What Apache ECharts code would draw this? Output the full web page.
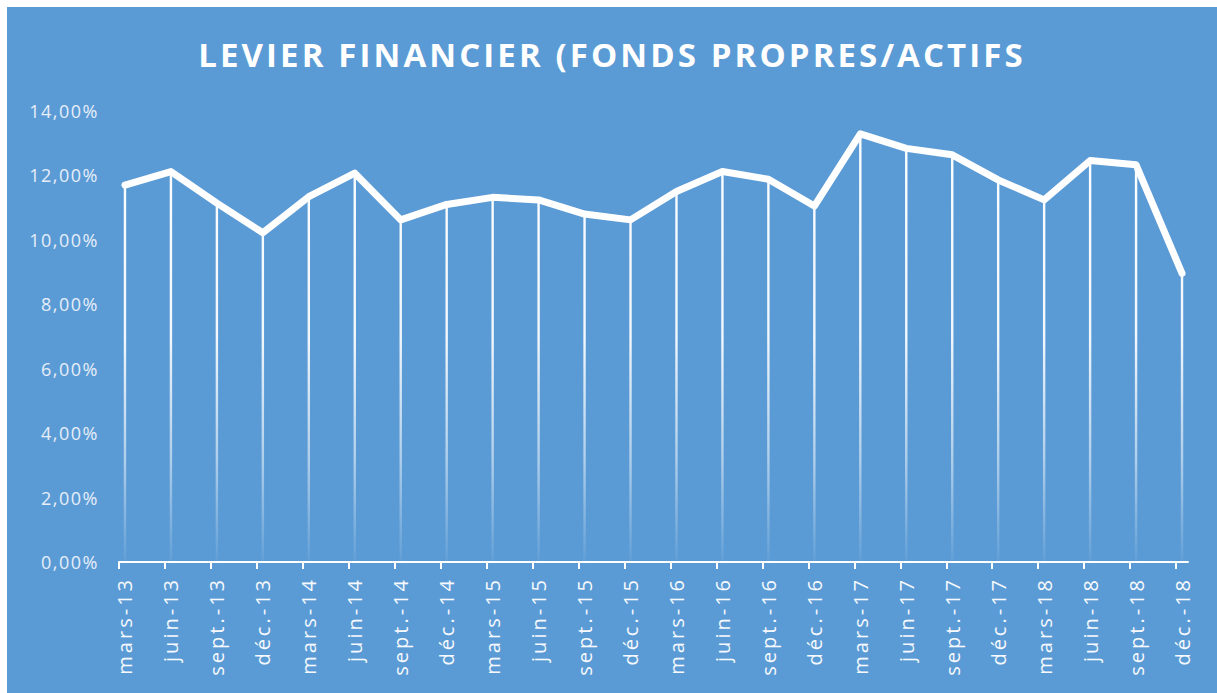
<!DOCTYPE html>
<html>
<head>
<meta charset="utf-8">
<script src="https://cdn.jsdelivr.net/npm/echarts@6/dist/echarts.min.js"></script>
<style>
  html, body { margin: 0; padding: 0; background: #ffffff; width: 1217px; height: 693px; overflow: hidden; }
  #chart { position: absolute; left: 7px; top: 7px; width: 1210px; height: 686px; }
  #chart text[style*="33px"] { letter-spacing: 3.1px; }
  #chart text[style*="20px"] { letter-spacing: 3px; }
  #chart text[style*="18px"] { letter-spacing: 1.5px; }
</style>
</head>
<body>
<div id="chart"></div>
<script>
const titleText = 'LEVIER FINANCIER (FONDS PROPRES/ACTIFS';
const categories = ['mars-13','juin-13','sept.-13','déc.-13','mars-14','juin-14','sept.-14','déc.-14',
  'mars-15','juin-15','sept.-15','déc.-15','mars-16','juin-16','sept.-16','déc.-16',
  'mars-17','juin-17','sept.-17','déc.-17','mars-18','juin-18','sept.-18','déc.-18'];
const values = [11.70, 12.12, 11.14, 10.22, 11.34, 12.07, 10.62, 11.10,
  11.32, 11.24, 10.80, 10.62, 11.50, 12.12, 11.88, 11.05,
  13.29, 12.84, 12.64, 11.86, 11.24, 12.46, 12.33, 8.96];
const yMin = 0, yMax = 14, yStep = 2;

const chart = echarts.init(document.getElementById('chart'), null, { renderer: 'svg' });
const idx = categories.map((c, i) => i);
const points = values.map((v, i) => [i, v]);

chart.setOption({
  backgroundColor: '#5B9BD5',
  animation: false,
  title: {
    text: titleText,
    left: 'center',
    top: 26,
    textStyle: { color: '#ffffff', fontFamily: 'Open Sans', fontWeight: 'bold', fontSize: 33 }
  },
  grid: { left: 112, right: 29, top: 104, bottom: 131 },
  xAxis: {
    type: 'value',
    min: -0.13,
    max: 23.13,
    axisLine: { show: true, lineStyle: { color: '#ffffff', width: 2 } },
    axisTick: { show: true, length: 7, lineStyle: { color: '#ffffff', width: 2 },
      customValues: idx.map(i => i - 0.13) },
    axisLabel: {
      customValues: idx,
      rotate: 90,
      margin: 15,
      color: '#f6f9fd',
      fontFamily: 'Open Sans',
      fontSize: 20,
      formatter: v => categories[Math.round(v)]
    },
    splitLine: { show: false }
  },
  yAxis: {
    type: 'value',
    min: yMin,
    max: yMax,
    interval: yStep,
    axisLine: { show: false },
    axisTick: { show: false },
    splitLine: { show: false },
    axisLabel: {
      margin: 20,
      color: '#e6eef8',
      fontFamily: 'Open Sans',
      fontSize: 18,
      formatter: v => v.toFixed(2).replace('.', ',') + '%'
    }
  },
  series: [
    {
      type: 'bar',
      data: points,
      barWidth: 2.4,
      z: 1,
      itemStyle: {
        color: new echarts.graphic.LinearGradient(0, 104, 0, 555, [
          { offset: 0, color: 'rgba(255,255,255,1)' },
          { offset: 0.5, color: 'rgba(255,255,255,0.92)' },
          { offset: 0.78, color: 'rgba(255,255,255,0.5)' },
          { offset: 1, color: 'rgba(255,255,255,0.04)' }
        ], true)
      }
    },
    {
      type: 'line',
      data: points,
      showSymbol: false,
      z: 3,
      lineStyle: { color: '#ffffff', width: 7, cap: 'round', join: 'round' }
    }
  ]
});
</script>
</body>
</html>
